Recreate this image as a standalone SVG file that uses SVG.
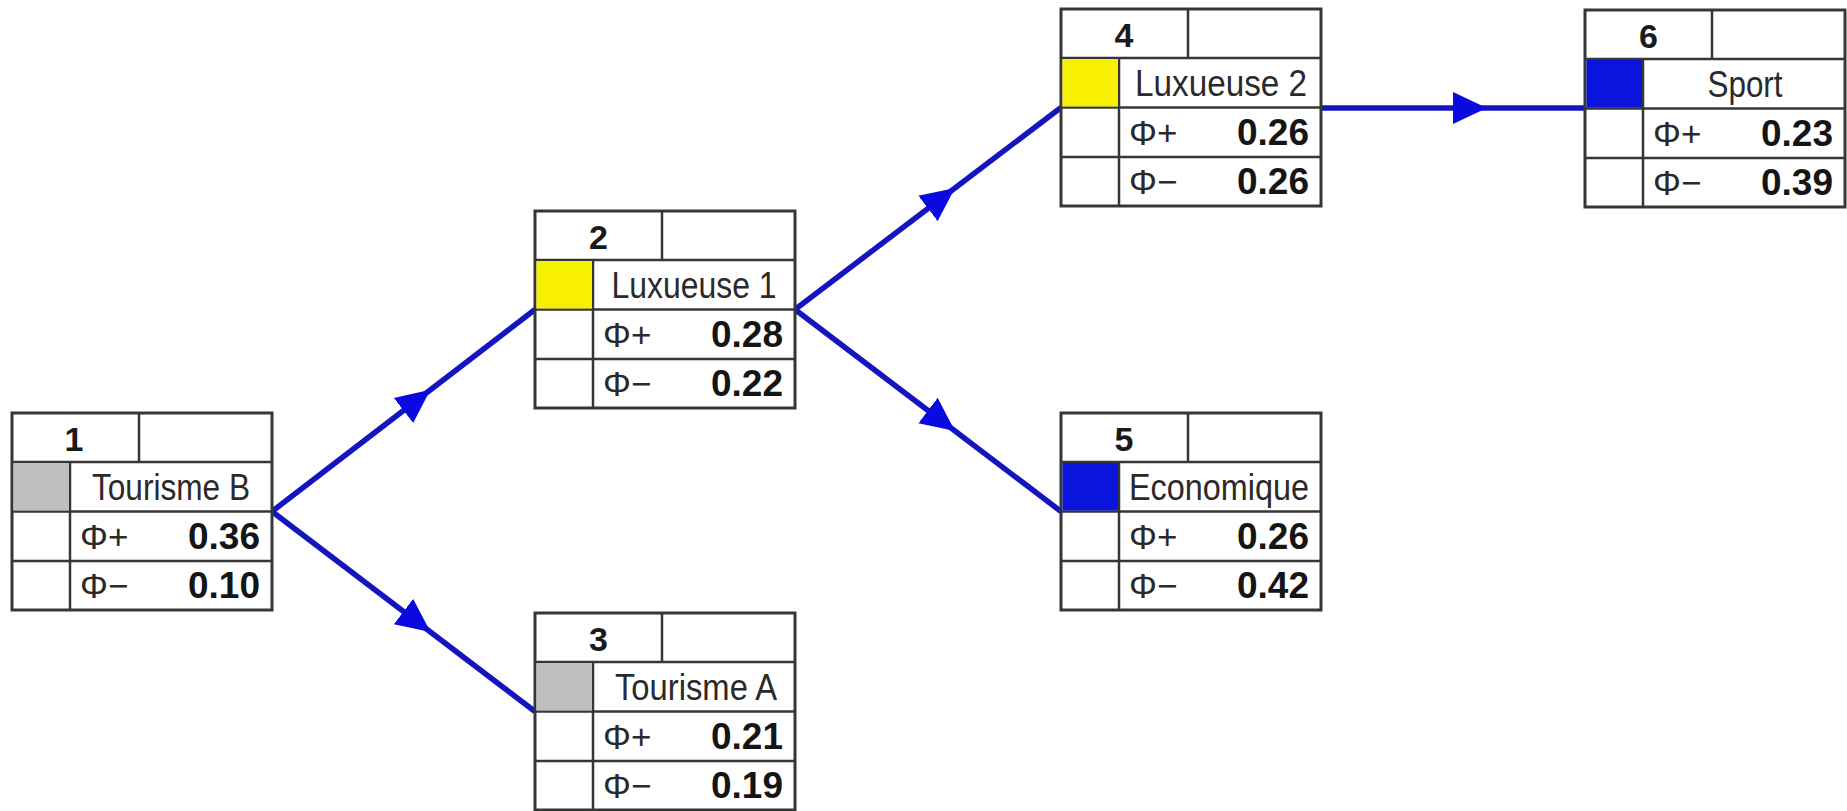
<svg xmlns="http://www.w3.org/2000/svg" xmlns:xlink="http://www.w3.org/1999/xlink" width="1847" height="811" viewBox="0 0 1847 811">
<style>
.bg{fill:#ffffff}
.frame{fill:none;stroke:#363636;stroke-width:3}
.grid{stroke:#363636;stroke-width:2.5;fill:none}
.num{font-family:"Liberation Sans",Arial,sans-serif;font-weight:bold;font-size:34px;fill:#1a1a1a;text-anchor:middle}
.lbl{font-family:"Liberation Sans",Arial,sans-serif;font-size:36px;fill:#2a2a2a;text-anchor:middle}
.phi{font-family:"Liberation Sans",Arial,sans-serif;font-size:35px;fill:#2a2a2a}
.val{font-family:"Liberation Sans",Arial,sans-serif;font-weight:bold;font-size:37px;fill:#151515;text-anchor:end}
.gray{fill:#bebebe}
.yellow{fill:#f7f000}
.blue{fill:#0a14dc}
.conn{fill:none;stroke:#1515c0;stroke-width:5.5;stroke-linejoin:round;marker-mid:url(#arrow)}
</style>
<defs>
<marker id="arrow" markerUnits="userSpaceOnUse" markerWidth="36" markerHeight="36" viewBox="0 -17 34 34" refX="0" refY="0" orient="auto">
<path d="M0,-15 L32,0 L0,15 Z" fill="#0a0ae0"/>
</marker>
<g id="frame">
<rect class="bg" x="0" y="0" width="260" height="197"/>
<line class="grid" x1="0" y1="49" x2="260" y2="49"/>
<line class="grid" x1="0" y1="98.5" x2="260" y2="98.5"/>
<line class="grid" x1="0" y1="148" x2="260" y2="148"/>
<line class="grid" x1="58" y1="49" x2="58" y2="197"/>
<line class="grid" x1="127" y1="0" x2="127" y2="49"/>
<rect class="frame" x="0" y="0" width="260" height="197"/>
</g>
</defs>
<rect width="1847" height="811" fill="#ffffff"/>
<g id="connectors">
<path class="conn" d="M272,511.5 L403.5,410.5 L535,309.5"/>
<path class="conn" d="M272,511.5 L403.5,611.5 L535,711.5"/>
<path class="conn" d="M795,309.5 L928,208.5 L1061,107.5"/>
<path class="conn" d="M795,309.5 L928,410.5 L1061,511.5"/>
<path class="conn" d="M1321,108 L1453,108 L1585,108"/>
</g>
<g id="node1" transform="translate(12,413)">
<use href="#frame"/>
<rect class="gray" x="1.5" y="50" width="55.5" height="47.5"/>
<text class="num" x="62" y="38">1</text>
<text class="lbl" x="159" y="87" textLength="158" lengthAdjust="spacingAndGlyphs">Tourisme B</text>
<text class="phi" x="68" y="135.5">Φ+</text>
<text class="val" x="248" y="135.5">0.36</text>
<text class="phi" x="68" y="185">Φ−</text>
<text class="val" x="248" y="185">0.10</text>
</g>
<g id="node2" transform="translate(535,211)">
<use href="#frame"/>
<rect class="yellow" x="1.5" y="50" width="55.5" height="47.5"/>
<text class="num" x="63.5" y="38">2</text>
<text class="lbl" x="159" y="87" textLength="165" lengthAdjust="spacingAndGlyphs">Luxueuse 1</text>
<text class="phi" x="68" y="135.5">Φ+</text>
<text class="val" x="248" y="135.5">0.28</text>
<text class="phi" x="68" y="185">Φ−</text>
<text class="val" x="248" y="185">0.22</text>
</g>
<g id="node3" transform="translate(535,613)">
<use href="#frame"/>
<rect class="gray" x="1.5" y="50" width="55.5" height="47.5"/>
<text class="num" x="63.5" y="38">3</text>
<text class="lbl" x="161" y="87" textLength="162" lengthAdjust="spacingAndGlyphs">Tourisme A</text>
<text class="phi" x="68" y="135.5">Φ+</text>
<text class="val" x="248" y="135.5">0.21</text>
<text class="phi" x="68" y="185">Φ−</text>
<text class="val" x="248" y="185">0.19</text>
</g>
<g id="node4" transform="translate(1061,9)">
<use href="#frame"/>
<rect class="yellow" x="1.5" y="50" width="55.5" height="47.5"/>
<text class="num" x="63" y="38">4</text>
<text class="lbl" x="160" y="87" textLength="172" lengthAdjust="spacingAndGlyphs">Luxueuse 2</text>
<text class="phi" x="68" y="135.5">Φ+</text>
<text class="val" x="248" y="135.5">0.26</text>
<text class="phi" x="68" y="185">Φ−</text>
<text class="val" x="248" y="185">0.26</text>
</g>
<g id="node5" transform="translate(1061,413)">
<use href="#frame"/>
<rect class="blue" x="1.5" y="50" width="55.5" height="47.5"/>
<text class="num" x="63" y="38">5</text>
<text class="lbl" x="158" y="87" textLength="180" lengthAdjust="spacingAndGlyphs">Economique</text>
<text class="phi" x="68" y="135.5">Φ+</text>
<text class="val" x="248" y="135.5">0.26</text>
<text class="phi" x="68" y="185">Φ−</text>
<text class="val" x="248" y="185">0.42</text>
</g>
<g id="node6" transform="translate(1585,10)">
<use href="#frame"/>
<rect class="blue" x="1.5" y="50" width="55.5" height="47.5"/>
<text class="num" x="63.5" y="38">6</text>
<text class="lbl" x="160" y="87" textLength="75" lengthAdjust="spacingAndGlyphs">Sport</text>
<text class="phi" x="68" y="135.5">Φ+</text>
<text class="val" x="248" y="135.5">0.23</text>
<text class="phi" x="68" y="185">Φ−</text>
<text class="val" x="248" y="185">0.39</text>
</g>
</svg>
